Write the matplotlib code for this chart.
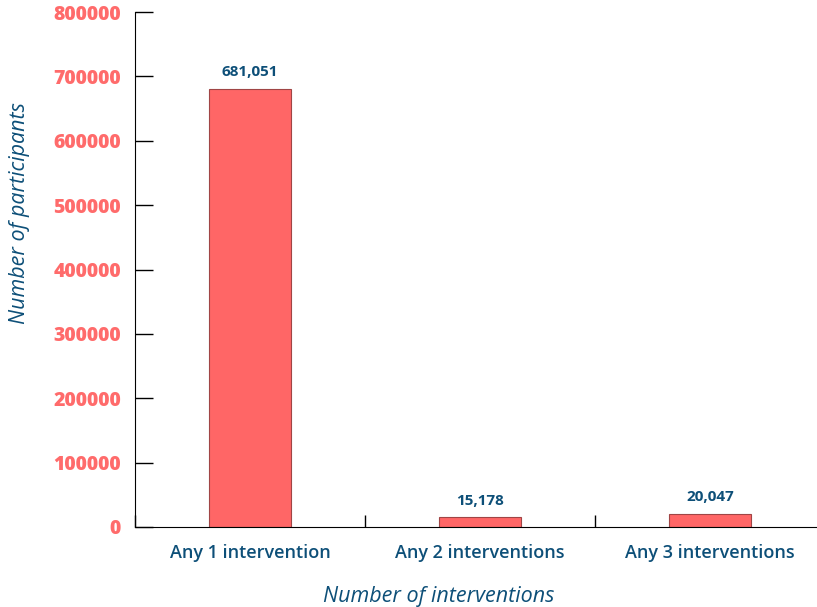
import numpy as np
import matplotlib.pyplot as plt

categories = ['Any 1 intervention', 'Any 2 interventions', 'Any 3 interventions']
participants = [681051, 15178, 20047]
yticks = [0, 100000, 200000, 300000, 400000, 500000, 600000, 700000, 800000]

bar_color = '#FF6666'
red_text = '#FF6B6B'
blue_text = '#0D4F78'

plt.rcParams['font.family'] = ['Open Sans', 'DejaVu Sans']

fig = plt.figure(figsize=(8.17, 6.07), dpi=100)
ax = fig.add_axes([135 / 817, 1 - 527 / 607, 690 / 817, 515 / 607])

x = np.arange(len(categories))
bars = ax.bar(x, participants, width=0.36, color=bar_color,
              edgecolor='#A04545', linewidth=0.8)

for b, v in zip(bars, participants):
    ax.annotate(f'{v:,}', (b.get_x() + b.get_width() / 2, v),
                xytext=(0, 7), textcoords='offset points',
                ha='center', va='bottom', fontsize=11,
                fontweight='bold', color=blue_text)

ax.set_xlim(-0.5, len(categories) - 0.5)
ax.set_ylim(0, 800000)
ax.set_yticks(yticks)
ax.set_yticklabels([str(t) for t in yticks])

ax.set_xticks(x)
ax.set_xticklabels(categories)
ax.set_xticks(np.arange(len(categories) + 1) - 0.5, minor=True)

ax.tick_params(axis='y', direction='in', length=13, width=1, pad=10,
               labelsize=14, labelcolor=red_text)
for lab in ax.get_yticklabels():
    lab.set_fontweight('heavy')
ax.tick_params(axis='x', which='major', length=0, pad=12,
               labelsize=13, labelcolor=blue_text)
for lab in ax.get_xticklabels():
    lab.set_fontweight('semibold')
ax.tick_params(axis='x', which='minor', direction='in', length=8.5, width=1)

for s in ['top', 'right']:
    ax.spines[s].set_visible(False)

ax.set_ylabel('Number of participants', fontsize=15.5, fontstyle='italic',
              color=blue_text)
ax.yaxis.set_label_coords(-0.152, 0.61)
ax.set_xlabel('Number of interventions', fontsize=15.5, fontstyle='italic',
              color=blue_text)
ax.xaxis.set_label_coords(0.44, -0.115)

fig.savefig('out.png', dpi=100)
